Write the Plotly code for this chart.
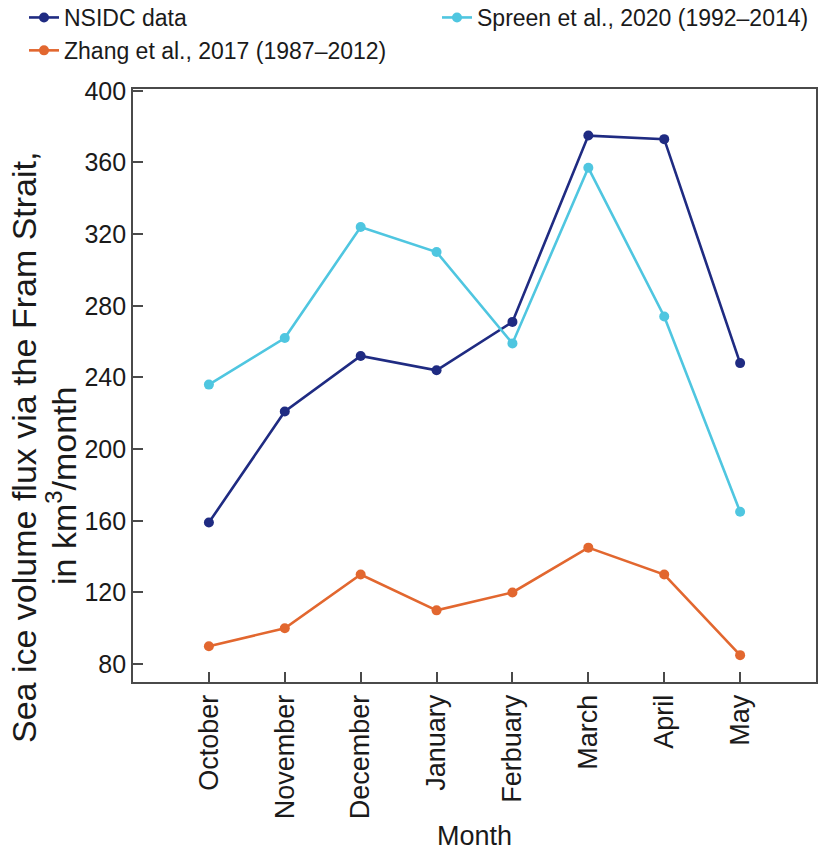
import plotly.graph_objects as go

# Months of the freezing season (x categories)
months = ["October", "November", "December", "January", "Ferbuary", "March", "April", "May"]

# Monthly sea ice volume flux through the Fram Strait, km^3/month
nsidc = [159, 221, 252, 244, 271, 375, 373, 248]
spreen = [236, 262, 324, 310, 259, 357, 274, 165]
zhang = [90, 100, 130, 110, 120, 145, 130, 85]

y_ticks = [80, 120, 160, 200, 240, 280, 320, 360, 400]

FONT = "Liberation Sans, Arial, sans-serif"
AXIS_COLOR = "#4a4a4a"
TEXT_COLOR = "#1a1a1a"

W, H = 821, 857
L, R, T, B = 133, 5, 89, 175
PW = W - L - R
PH = H - T - B


def px_to_paper_x(px):
    return (px - L) / PW


def px_to_paper_y(py):
    return (H - B - py) / PH


fig = go.Figure()

series = [
    ("NSIDC data", nsidc, "#1f2b82", "legend"),
    ("Zhang et al., 2017 (1987\u20132012)", zhang, "#e2672f", "legend"),
    ("Spreen et al., 2020 (1992\u20132014)", spreen, "#4fc6e0", "legend2"),
]
for name, vals, color, leg in series:
    fig.add_trace(go.Scatter(
        x=list(range(len(months))), y=vals, name=name,
        mode="lines+markers",
        line=dict(color=color, width=2.6),
        marker=dict(color=color, size=10),
        legend=leg, legendgroup=name,
    ))

legend_common = dict(
    yref="paper", y=px_to_paper_y(-4), yanchor="top", xanchor="left",
    orientation="v", font=dict(size=23, color=TEXT_COLOR),
    itemwidth=30, tracegroupgap=0,
    bgcolor="rgba(0,0,0,0)", borderwidth=0,
)

fig.update_layout(
    width=W, height=H,
    margin=dict(l=L, r=R, t=T, b=B, autoexpand=False),
    paper_bgcolor="white", plot_bgcolor="white",
    font=dict(family=FONT, size=25, color=TEXT_COLOR),
    legend=dict(x=px_to_paper_x(24), **legend_common),
    legend2=dict(x=px_to_paper_x(437), **legend_common),
    showlegend=True,
)

fig.update_xaxes(
    range=[-1, len(months)],
    tickmode="array", tickvals=list(range(len(months))), ticktext=months,
    tickangle=-90, tickfont=dict(size=27),
    ticks="inside", ticklen=10, tickwidth=1.5, tickcolor=AXIS_COLOR,
    showline=True, linecolor=AXIS_COLOR, linewidth=1.8, mirror=True,
    showgrid=False, zeroline=False,
)

fig.update_yaxes(
    range=[70, 401],
    tickmode="array", tickvals=y_ticks,
    tickfont=dict(size=25),
    ticks="inside", ticklen=10, tickwidth=1.5, tickcolor=AXIS_COLOR,
    showline=True, linecolor=AXIS_COLOR, linewidth=1.8, mirror=True,
    showgrid=False, zeroline=False,
)

# Axis titles
fig.add_annotation(
    text="Month", xref="paper", yref="paper",
    x=0.5, y=px_to_paper_y(836),
    yanchor="middle", xanchor="center", showarrow=False,
    font=dict(size=27, color=TEXT_COLOR),
)
fig.add_annotation(
    text="Sea ice volume flux via the Fram Strait,", textangle=-90,
    xref="paper", yref="paper", x=px_to_paper_x(24), y=px_to_paper_y(448),
    xanchor="center", yanchor="middle", showarrow=False,
    font=dict(size=34, color=TEXT_COLOR),
)
fig.add_annotation(
    text="in km<sup>3</sup>/month", textangle=-90,
    xref="paper", yref="paper", x=px_to_paper_x(61), y=px_to_paper_y(486),
    xanchor="center", yanchor="middle", showarrow=False,
    font=dict(size=34, color=TEXT_COLOR),
)

fig.write_html("out.html")
